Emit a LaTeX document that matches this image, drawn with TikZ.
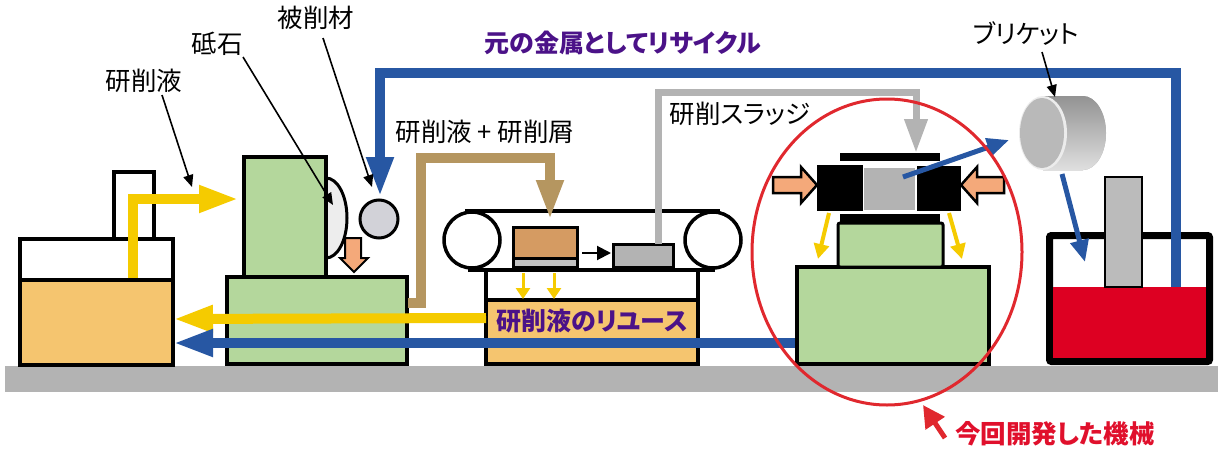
\documentclass[tikz,border=0pt]{standalone}
\usepackage{fontspec}
\setmainfont{Noto Sans CJK JP}[RawFeature=+palt]
\usetikzlibrary{arrows.meta,shapes.geometric}

\definecolor{leafgreen}{HTML}{B4D79C}
\definecolor{tankorange}{HTML}{F5C56F}
\definecolor{flowyellow}{HTML}{F5CB00}
\definecolor{flowblue}{HTML}{2757A3}
\definecolor{pipebrown}{HTML}{B59660}
\definecolor{chipbrown}{HTML}{D59B62}
\definecolor{slurrygray}{HTML}{B3B3B3}
\definecolor{partgray}{HTML}{D2D2D8}
\definecolor{wheelgray}{HTML}{EDEDED}
\definecolor{titlepurple}{HTML}{4B1288}
\definecolor{alertred}{HTML}{E0102C}
\definecolor{ringred}{HTML}{E0282E}
\definecolor{meltred}{HTML}{DD0022}
\definecolor{pushorange}{HTML}{F4A97A}

\tikzset{
  box/.style={draw=black, line width=3.5pt},
  flow/.style={line width=10pt, line join=miter},
  bigtip/.style={-{Triangle[length=40pt,width=25pt]}},
  thinflow/.style={line width=4pt, -{Triangle[length=15pt,width=15pt]}},
  callout/.style={draw=black, line width=1.6pt, -{Triangle[length=12pt,width=10pt]}},
  lbl/.style={font=\fontsize{25.5}{30}\selectfont, inner sep=0pt},
  boldlbl/.style={font=\fontsize{25}{30}\selectfont\bfseries, inner sep=0pt},
  pusharrow/.style={draw=black, line width=2.5pt, fill=pushorange, line join=miter},
}

\begin{document}
\begin{tikzpicture}[x=1pt,y=-1pt]
\useasboundingbox (0,0) rectangle (1218,450);

% floor
\fill[slurrygray] (5,366) rectangle (1218,392);

% ---- coolant tank ----
\draw[box, fill=white] (114,172) rectangle (154,239);
\draw[box, fill=white] (20,239) rectangle (173,280);
\draw[box, fill=tankorange] (20,280) rectangle (173,365);
\draw[flow, flowyellow, bigtip] (133,278) -- (133,199) -- (239,199);

% ---- grinding machine ----
\draw[box, fill=leafgreen] (227,277) rectangle (407,364);
\draw[line width=3pt, fill=wheelgray] (326,178) arc[start angle=-90, end angle=90, x radius=21, y radius=40];
\draw[box, fill=leafgreen] (244,157) rectangle (326,277);
\draw[line width=2pt, fill=pushorange, line join=miter]
  (345,238) -- (361,238) -- (361,258) -- (368,258) -- (354,272) -- (340,258) -- (345,258) -- cycle;
\draw[line width=3pt, fill=partgray] (379,219) circle[radius=19];

% ---- conveyor separator ----
\draw[box, fill=white] (486,270) rectangle (698,300);
\draw[box, fill=tankorange] (486,300) rectangle (698,364);
\draw[line width=3.5pt, fill=white] (472,240) circle[radius=28];
\draw[line width=3.5pt, fill=white] (713,240) circle[radius=28];
\draw[line width=3.5pt] (465,211) -- (720,211);
\draw[line width=3.5pt] (468,270) -- (715,270);
\draw[line width=3pt, fill=chipbrown] (513,227) rectangle (577,258);
\draw[line width=3pt, fill=slurrygray!80] (513,258) rectangle (577,267);
\draw[line width=3pt, fill=slurrygray] (613,244) rectangle (673,267);
\coordinate (beltA) at (582,253);
\coordinate (beltB) at (611,253);
\draw[line width=2pt, -{Triangle[length=14pt,width=14pt]}] (beltA) -- (beltB);
\foreach \x in {523,554}
  \draw[flowyellow, line width=3pt, -{Triangle[length=11pt,width=14pt]}] (\x,273) -- (\x,299);
\node[boldlbl, text=titlepurple] (reuse) at (592,321) {研削液のリユース};

% ---- flows back to the tank ----
\coordinate (tankR1) at (173,319);
\coordinate (tankR2) at (173,343);
\draw[flow, flowyellow, bigtip] (486,318) -- (tankR1);
\draw[flow, flowblue, bigtip] (798,343) -- (tankR2);

% coolant + swarf pipe
\draw[flow, pipebrown, bigtip] (408,303) -- (421,303) -- (421,158) -- (550,158) -- (550,220);

% sludge pipe
\draw[slurrygray, line width=7pt, line join=miter, -{Triangle[length=34pt,width=22pt]}]
  (658,244) -- (658,92) -- (916,92) -- (916,153);

% ---- briquetting press ----
\draw[box, fill=leafgreen] (797,267) rectangle (989,364);
\draw[line width=3pt, fill=leafgreen, rounded corners=2pt] (838,223) rectangle (943,267);
\fill (840,214) rectangle (940,224);
\fill (840,153) rectangle (940,161);
\fill (817,165) rectangle (863,211);
\fill[slurrygray] (864,168) rectangle (915,210);
\fill (917,166) rectangle (961,211);
\draw[pusharrow] (773,177) -- (801,177) -- (801,167) -- (817,185) -- (801,203) -- (801,193) -- (773,193) -- cycle;
\draw[pusharrow] (1004,177) -- (977,177) -- (977,167) -- (961,185) -- (977,203) -- (977,193) -- (1004,193) -- cycle;
\draw[flowyellow, thinflow] (829,213) -- (818,259);
\draw[flowyellow, thinflow] (949,213) -- (962,259);
\draw[flowblue, line width=5pt, -{Triangle[length=22pt,width=18pt]}] (903,177) -- (1009,140);

% ---- melting furnace ----
\draw[line width=7pt, fill=white, rounded corners=2pt] (1049.5,235.5) rectangle (1209.5,361.5);
\fill[meltred] (1053,287) rectangle (1206,358);
\draw[line width=2.5pt, fill=slurrygray!90] (1105,177) rectangle (1142,287);

% briquette (cylinder)
\fill[gray!70] (1083,133) ellipse[x radius=23, y radius=37];
\shade[top color=gray!85, bottom color=gray!25] (1043,96) rectangle (1083,170);
\shade[top color=gray!85, bottom color=gray!25] (1083,96) arc[start angle=-90, end angle=90, x radius=23, y radius=37] -- cycle;
\fill[white!85!gray] (1043,133) ellipse[x radius=24, y radius=37];
\fill[gray!55] (1042,133) ellipse[x radius=22, y radius=35];

% recycling loop and briquette drop
\draw[flow, flowblue, bigtip] (1176,287) -- (1176,73) -- (380,73) -- (380,197);
\draw[flowblue, line width=5pt, -{Triangle[length=22pt,width=18pt]}] (1062,174) -- (1085,262);

% highlight ring
\draw[ringred, line width=3pt] (887,252) ellipse[x radius=135, y radius=153];
\coordinate (ringTail) at (945,438);
\coordinate (ringTip) at (923,405);
\draw[ringred, line width=5pt, -{Triangle[length=22pt,width=22pt]}] (ringTail) -- (ringTip);

% ---- labels ----
\node[boldlbl, text=titlepurple] (title) at (623,43) {元の金属としてリサイクル};
\node[lbl] (coolant) at (144,81) {研削液};
\node[lbl] (wheel) at (217,44) {砥石};
\node[lbl] (work) at (316,18) {被削材};
\node[lbl] (mix) at (485,132) {研削液 + 研削屑};
\node[lbl] (sludge) at (740,114) {研削スラッジ};
\node[lbl] (briq) at (1026,34) {ブリケット};
\node[boldlbl, text=alertred, font=\fontsize{25.5}{30}\selectfont\bfseries] (newmc) at (1055,434) {今回開発した機械};

\draw[callout] (162,95) -- (192,187);
\draw[callout] (243,57) -- (333,205);
\draw[callout] (323,38) -- (372,187);
\draw[callout] (1042,52) -- (1055,97);
\end{tikzpicture}
\end{document}
